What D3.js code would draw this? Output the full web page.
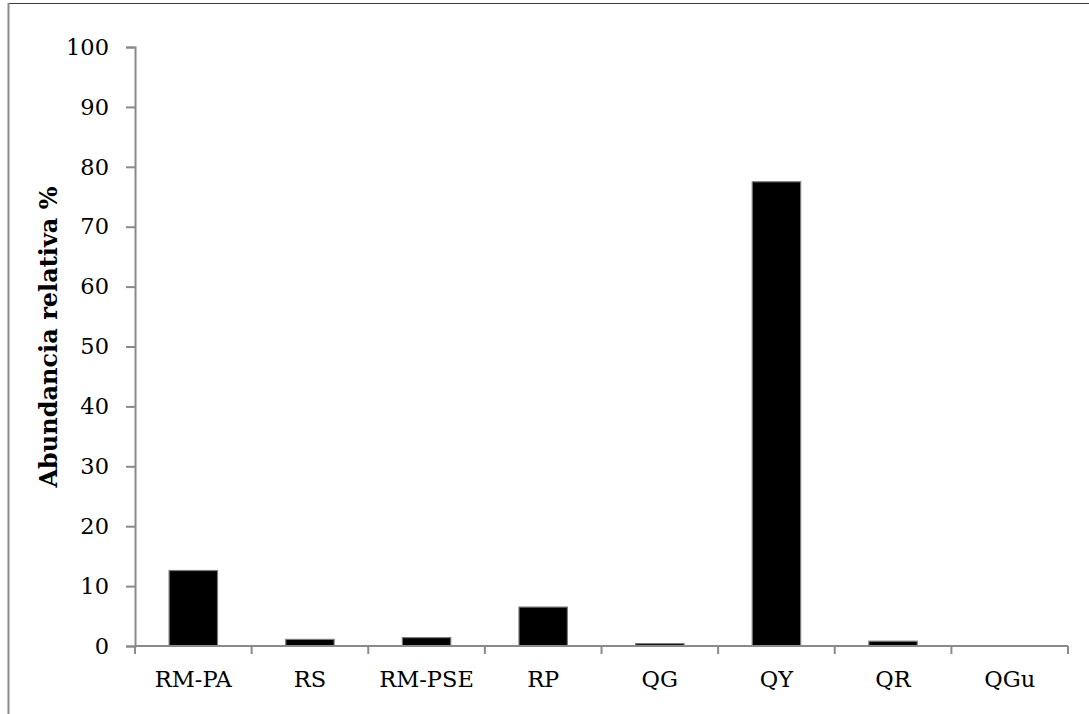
<!DOCTYPE html>
<html>
<head>
<meta charset="utf-8">
<script src="https://cdn.jsdelivr.net/npm/d3@7"></script>
<style>
  html, body { margin: 0; padding: 0; background: #fff; }
  svg { display: block; }
</style>
</head>
<body>
<svg id="chart" width="1089" height="714"></svg>
<script>
const categories = ["RM-PA", "RS", "RM-PSE", "RP", "QG", "QY", "QR", "QGu"];
const values = [12.6, 1.1, 1.4, 6.5, 0.4, 77.5, 0.8, 0];
const yTicks = [0, 10, 20, 30, 40, 50, 60, 70, 80, 90, 100];
const yLabel = "Abundancia relativa %";

const svg = d3.select("#chart");
const W = 1089, H = 714;
const margin = { left: 135, right: 1068, top: 47, bottom: 646 };
const font = "'DejaVu Serif', serif";

// outer frame
svg.append("line").attr("x1", 8).attr("x2", W).attr("y1", 3.5).attr("y2", 3.5)
  .attr("stroke", "#3c3c3c").attr("stroke-width", 1);
svg.append("line").attr("x1", 8.5).attr("x2", 8.5).attr("y1", 3).attr("y2", H)
  .attr("stroke", "#8a8a8a").attr("stroke-width", 2);

const x = d3.scaleBand().domain(categories).range([margin.left, margin.right]).padding(0);
const y = d3.scaleLinear().domain([0, 100]).range([margin.bottom, margin.top]);
const barW = x.bandwidth() * 0.415;

// bars
svg.append("g").selectAll("rect").data(categories).join("rect")
  .attr("x", d => x(d) + (x.bandwidth() - barW) / 2)
  .attr("width", barW)
  .attr("y", (d, i) => y(values[i]))
  .attr("height", (d, i) => y(0) - y(values[i]))
  .attr("fill", "#000")
  .attr("stroke", "#7a7a7a")
  .attr("stroke-width", 1.2);

// y axis
const yAxis = svg.append("g").attr("transform", `translate(${margin.left},0)`)
  .call(d3.axisLeft(y).tickValues(yTicks).tickSize(9).tickPadding(17).tickFormat(d3.format("d")));
yAxis.select(".domain").attr("stroke", "#8a8a8a").attr("stroke-width", 2);
yAxis.selectAll(".tick line").attr("stroke", "#8a8a8a").attr("stroke-width", 2);
yAxis.selectAll(".tick text").attr("font-family", font).attr("font-size", 22.5).attr("fill", "#000");

// x axis (ticks at category boundaries)
const xAxisG = svg.append("g").attr("transform", `translate(0,${margin.bottom})`);
xAxisG.append("line").attr("x1", margin.left).attr("x2", margin.right)
  .attr("y1", 0).attr("y2", 0).attr("stroke", "#8a8a8a").attr("stroke-width", 2);
const boundaries = categories.map(c => x(c)).concat([x(categories[categories.length - 1]) + x.bandwidth()]);
xAxisG.selectAll("line.tk").data(boundaries).join("line").attr("class", "tk")
  .attr("x1", d => d).attr("x2", d => d).attr("y1", 0).attr("y2", 8)
  .attr("stroke", "#8a8a8a").attr("stroke-width", 2);
xAxisG.selectAll("text").data(categories).join("text")
  .attr("x", d => x(d) + x.bandwidth() / 2)
  .attr("y", 41)
  .attr("text-anchor", "middle")
  .attr("font-family", font).attr("font-size", 22.5).attr("fill", "#000")
  .text(d => d);

// y label
svg.append("text")
  .attr("transform", `translate(57,337) rotate(-90)`)
  .attr("text-anchor", "middle")
  .attr("font-family", font).attr("font-weight", "bold").attr("font-size", 24)
  .attr("fill", "#000")
  .text(yLabel);
</script>
</body>
</html>
